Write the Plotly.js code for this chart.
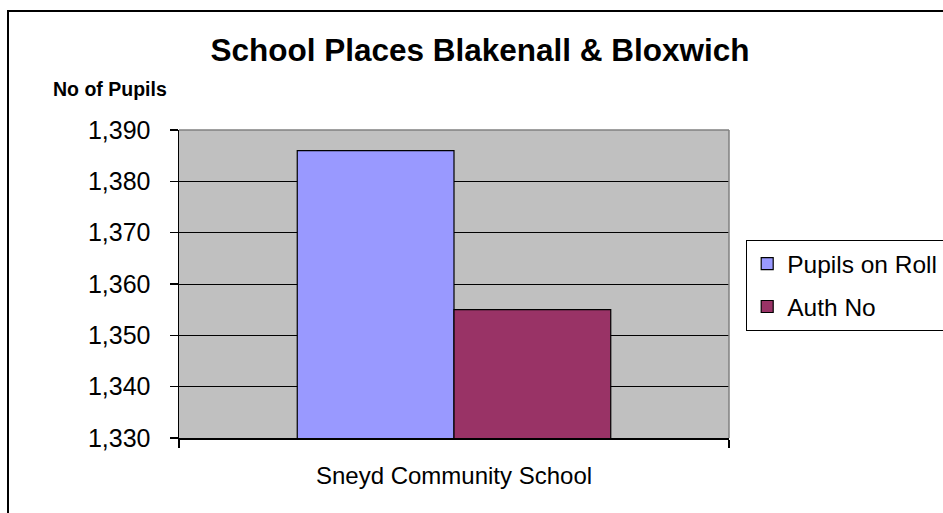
<!DOCTYPE html>
<html>
<head>
<meta charset="utf-8">
<script src="https://cdn.plot.ly/plotly-3.0.1.min.js"></script>
<style>html,body{margin:0;padding:0;background:#fff;}#chart{width:943px;height:513px;}</style>
</head>
<body>
<div id="chart"></div>
<script>
const categories = ["Sneyd Community School"];
const seriesNames = ["Pupils on Roll", "Auth No"];
const pupilsOnRoll = [1386];
const authNo = [1355];
const seriesColors = ["#9999FF", "#993366"];

const FONT = "Arial, 'Liberation Sans', sans-serif";

const traces = [
  {type: "bar", name: seriesNames[0], x: categories, y: pupilsOnRoll, legendgroup: "a",
   marker: {color: seriesColors[0], line: {color: "#000", width: 1.2}}, hoverinfo: "none"},
  {type: "bar", name: seriesNames[1], x: categories, y: authNo, legendgroup: "b",
   marker: {color: seriesColors[1], line: {color: "#000", width: 1.2}}, hoverinfo: "none"}
];

const layout = {
  width: 943, height: 513,
  margin: {l: 179, r: 214, t: 130, b: 75, autoexpand: false},
  paper_bgcolor: "#ffffff",
  plot_bgcolor: "#C0C0C0",
  font: {family: FONT, color: "#000", size: 24},
  barmode: "group",
  bargap: 0.43,
  bargroupgap: 0,
  title: {text: "<b>School Places Blakenall & Bloxwich</b>", font: {family: FONT, size: 31.5, color: "#000"},
          xref: "container", x: 0.509, xanchor: "center", yref: "container", y: 1 - 50/513, yanchor: "middle"},
  xaxis: {type: "category", showgrid: false, zeroline: false, showline: true, linecolor: "#000", linewidth: 1.5,
          ticks: "outside", tickson: "boundaries", ticklen: 8, tickwidth: 1.5, tickcolor: "#000",
          ticklabelstandoff: 16, tickfont: {family: FONT, size: 24}, fixedrange: true},
  yaxis: {range: [1330, 1390], dtick: 10, tick0: 1330, tickformat: ",d", showgrid: true, gridcolor: "#000", gridwidth: 1,
          zeroline: false, showline: true, linecolor: "#000", linewidth: 1.5,
          ticks: "outside", ticklen: 8, tickwidth: 1.5, tickcolor: "#000", ticklabelstandoff: 14,
          tickfont: {family: FONT, size: 25}, fixedrange: true},
  showlegend: true,
  legend: {x: (746-179)/550, xanchor: "left", y: (438-240)/308, yanchor: "top",
           bgcolor: "#fff", bordercolor: "#000", borderwidth: 1.2,
           font: {family: FONT, size: 24.5, color: "#000"}, traceorder: "grouped", tracegroupgap: 8},
  annotations: [
    {text: "<b>No of Pupils</b>", xref: "paper", yref: "paper", x: (110-179)/550, y: (438-89)/308,
     xanchor: "center", yanchor: "middle", showarrow: false, font: {family: FONT, size: 19.5, color: "#000"}}
  ],
  shapes: [
    {type: "rect", xref: "paper", yref: "paper", x0: (8-179)/550, x1: (960-179)/550, y0: (438-530)/308, y1: (438-11)/308,
     line: {color: "#000", width: 2}, fillcolor: "rgba(0,0,0,0)", layer: "above"},
    {type: "line", xref: "paper", yref: "paper", x0: 0, x1: 1, y0: 1, y1: 1, line: {color: "#808080", width: 1.5}, layer: "above"},
    {type: "line", xref: "paper", yref: "paper", x0: 1, x1: 1, y0: 0, y1: 1, line: {color: "#808080", width: 1.5}, layer: "above"}
  ]
};

Plotly.newPlot("chart", traces, layout, {displayModeBar: false, staticPlot: true});
</script>
</body>
</html>
